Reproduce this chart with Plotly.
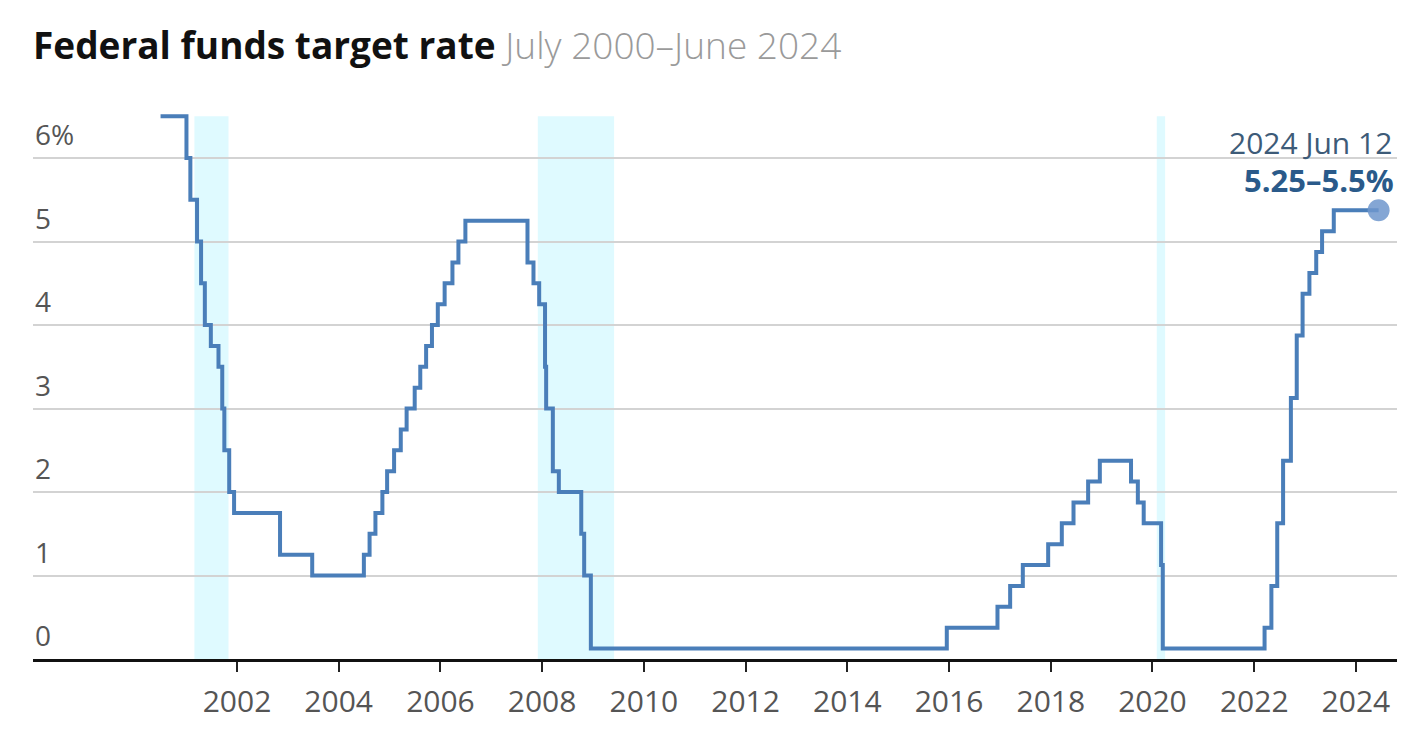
import plotly.graph_objects as go

# Target rate change dates and rate (midpoint of range after Dec 2008), percent
change_dates = [
    "2000-07-01", "2001-01-03", "2001-01-31", "2001-03-20", "2001-04-18", "2001-05-15",
    "2001-06-27", "2001-08-21", "2001-09-17", "2001-10-02", "2001-11-06", "2001-12-11",
    "2002-11-06", "2003-06-25", "2004-06-30", "2004-08-10", "2004-09-21", "2004-11-10",
    "2004-12-14", "2005-02-02", "2005-03-22", "2005-05-03", "2005-06-30", "2005-08-09",
    "2005-09-20", "2005-11-01", "2005-12-13", "2006-01-31", "2006-03-28", "2006-05-10",
    "2006-06-29", "2007-09-18", "2007-10-31", "2007-12-11", "2008-01-22", "2008-01-30",
    "2008-03-18", "2008-04-30", "2008-10-08", "2008-10-29", "2008-12-16", "2015-12-16",
    "2016-12-14", "2017-03-15", "2017-06-14", "2017-12-13", "2018-03-21", "2018-06-13",
    "2018-09-26", "2018-12-19", "2019-07-31", "2019-09-18", "2019-10-30", "2020-03-03",
    "2020-03-15", "2022-03-16", "2022-05-04", "2022-06-15", "2022-07-27", "2022-09-21",
    "2022-11-02", "2022-12-14", "2023-02-01", "2023-03-22", "2023-05-03", "2023-07-26",
    "2024-06-12",
]
rates = [
    6.5, 6.0, 5.5, 5.0, 4.5, 4.0,
    3.75, 3.5, 3.0, 2.5, 2.0, 1.75,
    1.25, 1.0, 1.25, 1.5, 1.75, 2.0,
    2.25, 2.5, 2.75, 3.0, 3.25, 3.5,
    3.75, 4.0, 4.25, 4.5, 4.75, 5.0,
    5.25, 4.75, 4.5, 4.25, 3.5, 3.0,
    2.25, 2.0, 1.5, 1.0, 0.125, 0.375,
    0.625, 0.875, 1.125, 1.375, 1.625, 1.875,
    2.125, 2.375, 2.125, 1.875, 1.625, 1.125,
    0.125, 0.375, 0.875, 1.625, 2.375, 3.125,
    3.875, 4.375, 4.625, 4.875, 5.125, 5.375,
    5.375,
]

# Recessions
recession_starts = ["2001-03-01", "2007-12-01", "2020-02-01"]
recession_ends = ["2001-11-01", "2009-06-01", "2020-04-01"]

y_ticks = [0, 1, 2, 3, 4, 5, 6]
y_tick_labels = ["0", "1", "2", "3", "4", "5", "6%"]
x_tick_years = list(range(2002, 2025, 2))

end_date_label = "2024 Jun 12"
end_value_label = "5.25–5.5%"

LINE = "#4a7eb9"
FONT = "Open Sans"

fig = go.Figure()

for s, e in zip(recession_starts, recession_ends):
    fig.add_shape(type="rect", xref="x", yref="y", x0=s, x1=e, y0=0, y1=6.5,
                  fillcolor="#dffaff", line_width=0, layer="below")

fig.add_trace(go.Scatter(
    x=change_dates, y=rates, mode="lines", line=dict(color=LINE, width=4, shape="hv"),
    hoverinfo="skip", showlegend=False,
))
fig.add_trace(go.Scatter(
    x=[change_dates[-1]], y=[rates[-1]], mode="markers",
    marker=dict(size=22, color="rgba(110,150,205,0.85)", line=dict(width=0)),
    hoverinfo="skip", showlegend=False, cliponaxis=False,
))

annotations = []
for v, t in zip(y_ticks, y_tick_labels):
    annotations.append(dict(x=0, xref="paper", y=v, yref="y", text=t, showarrow=False,
                            xanchor="left", yanchor="bottom", yshift=3,
                            font=dict(family=FONT, size=28, color="#555555")))
annotations.append(dict(x=change_dates[-1], y=rates[-1], xref="x", yref="y",
                        text=end_date_label, showarrow=False, xanchor="right", yanchor="middle",
                        xshift=15, yshift=68, font=dict(family=FONT, size=30, color="#3d5b78")))
annotations.append(dict(x=change_dates[-1], y=rates[-1], xref="x", yref="y",
                        text="<b>" + end_value_label + "</b>", showarrow=False, xanchor="right",
                        yanchor="middle", xshift=17, yshift=30,
                        font=dict(family=FONT, size=31, color="#2a5a8a")))

fig.update_layout(
    width=1422, height=744,
    margin=dict(l=25, r=33, t=100, b=93),
    paper_bgcolor="white", plot_bgcolor="white",
    title=dict(
        text="<b>Federal funds target rate</b> <span style='color:#9a9a9a;font-weight:300'>July 2000–June 2024</span>",
        x=25 / 1422, xanchor="left", y=1 - 38 / 744, yanchor="middle",
        font=dict(family=FONT, size=37, color="#111111"),
    ),
    annotations=annotations,
    xaxis=dict(
        type="date", range=["1997-12-28", "2024-10-22"],
        tickvals=[f"{y}-01-01" for y in x_tick_years], ticktext=[str(y) for y in x_tick_years],
        ticks="outside", ticklen=10, tickwidth=2, tickcolor="#222222",
        showline=True, linecolor="#111111", linewidth=3,
        showgrid=False, zeroline=False,
        tickfont=dict(family=FONT, size=30, color="#555555"),
        ticklabelstandoff=4,
    ),
    yaxis=dict(
        range=[0, 6.6], tickvals=y_ticks, showticklabels=False,
        showgrid=True, gridcolor="#d3d3d3", gridwidth=1.5, zeroline=False,
        fixedrange=True,
    ),
)

fig.write_html("out.html")
